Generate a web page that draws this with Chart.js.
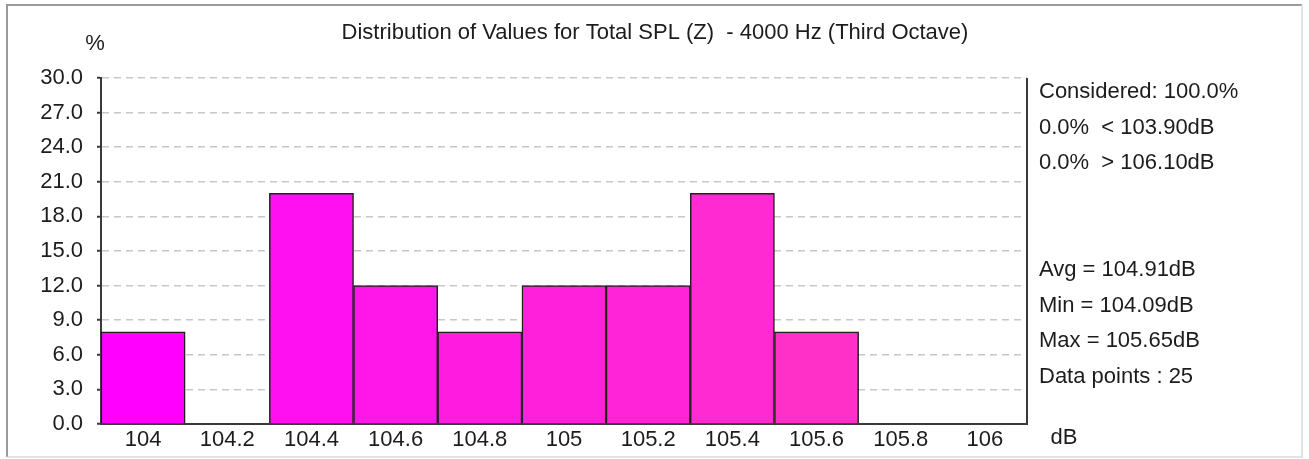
<!DOCTYPE html>
<html>
<head>
<meta charset="utf-8">
<script src="https://cdn.jsdelivr.net/npm/chart.js@4/dist/chart.umd.min.js"></script>
<style>
  html, body { margin: 0; padding: 0; background: #fff; }
  #wrap { position: relative; width: 1309px; height: 459px; }
</style>
</head>
<body>
<div id="wrap"><canvas id="distChart" width="1309" height="459"></canvas></div>
<script>
// histogram bins (dB) and share of values (%)
const binLabels = ["104", "104.2", "104.4", "104.6", "104.8", "105", "105.2", "105.4", "105.6", "105.8", "106"];
const percentValues = [8, 0, 20, 12, 8, 12, 12, 20, 8, 0, 0];
const barColors = ["#ff00ff", "#ff06f8", "#ff10f0", "#ff16e8", "#ff1ce0", "#ff20dc", "#ff24d8", "#ff2ad2", "#ff30c8", "#ff34c4", "#ff38c0"];

const chartTitle = "Distribution of Values for Total SPL (Z)  - 4000 Hz (Third Octave)";
const statsTop = ["Considered: 100.0%", "0.0%  < 103.90dB", "0.0%  > 106.10dB"];
const statsBottom = ["Avg = 104.91dB", "Min = 104.09dB", "Max = 105.65dB", "Data points : 25"];

const FONT = "22px 'Liberation Sans', Arial, sans-serif";
const INK = "#1c1c1c";

// frame, title, unit labels, stats and right border
const decorPlugin = {
    id: "decor",
    beforeDraw(chart) {
        const ctx = chart.ctx;
        ctx.save();
        ctx.fillStyle = "#fff";
        ctx.fillRect(0, 0, chart.width, chart.height);
        // outer panel
        ctx.strokeStyle = "#9a9a9a";
        ctx.lineWidth = 2;
        ctx.beginPath();
        ctx.moveTo(7, 457); ctx.lineTo(7, 5); ctx.lineTo(1302, 5);
        ctx.stroke();
        ctx.strokeStyle = "#dadada";
        ctx.lineWidth = 1.5;
        ctx.beginPath();
        ctx.moveTo(1302, 5); ctx.lineTo(1302, 457); ctx.lineTo(7, 457);
        ctx.stroke();
        ctx.restore();
    },
    afterDraw(chart) {
        const ctx = chart.ctx;
        const area = chart.chartArea;
        ctx.save();
        ctx.font = FONT;
        ctx.fillStyle = INK;
        ctx.textBaseline = "middle";

        ctx.textAlign = "center";
        ctx.fillText(chartTitle, 655, 33);
        ctx.fillText("%", 95, 44);
        ctx.fillText("dB", 1064, 438);

        ctx.textAlign = "left";
        statsTop.forEach((t, i) => ctx.fillText(t, 1039, 92 + i * 35.5));
        statsBottom.forEach((t, i) => ctx.fillText(t, 1039, 270 + i * 35.5));

        // right border of plot area
        ctx.strokeStyle = "#3a3a3a";
        ctx.lineWidth = 2;
        ctx.beginPath();
        ctx.moveTo(area.right, area.top);
        ctx.lineTo(area.right, area.bottom);
        ctx.stroke();
        ctx.restore();
    },
};

const ctx = document.getElementById("distChart").getContext("2d");
new Chart(ctx, {
    type: "bar",
    data: {
        labels: binLabels,
        datasets: [
            {
                label: "Distribution",
                data: percentValues,
                backgroundColor: barColors,
                borderColor: "#202020",
                borderWidth: 1.5,
                barPercentage: 1,
                categoryPercentage: 1,
            },
        ],
    },
    options: {
        responsive: false,
        animation: false,
        layout: {
            padding: { left: 0, right: 282, top: 78, bottom: 0 },
        },
        plugins: {
            legend: { display: false },
            title: { display: false },
            tooltip: { enabled: false },
        },
        scales: {
            x: {
                offset: true,
                grid: { display: false, drawTicks: false },
                border: { display: true, color: "#3a3a3a", width: 2 },
                ticks: {
                    font: { family: "'Liberation Sans', Arial, sans-serif", size: 22 },
                    color: INK,
                    padding: 3,
                    maxRotation: 0,
                    autoSkip: false,
                },
                afterFit(scale) { scale.height = 35; },
            },
            y: {
                min: 0,
                max: 30,
                ticks: {
                    stepSize: 3,
                    font: { family: "'Liberation Sans', Arial, sans-serif", size: 22 },
                    color: INK,
                    padding: 14,
                    callback: (v) => Number(v).toFixed(1),
                },
                grid: {
                    color: "#c8c8c8",
                    lineWidth: 1.5,
                    tickLength: 4,
                    tickColor: "#3a3a3a",
                    tickWidth: 2,
                    tickBorderDash: [],
                },
                border: { display: true, color: "#3a3a3a", width: 2, dash: [7, 5] },
                afterFit(scale) { scale.width = 101; },
            },
        },
    },
    plugins: [decorPlugin],
});
</script>
</body>
</html>
